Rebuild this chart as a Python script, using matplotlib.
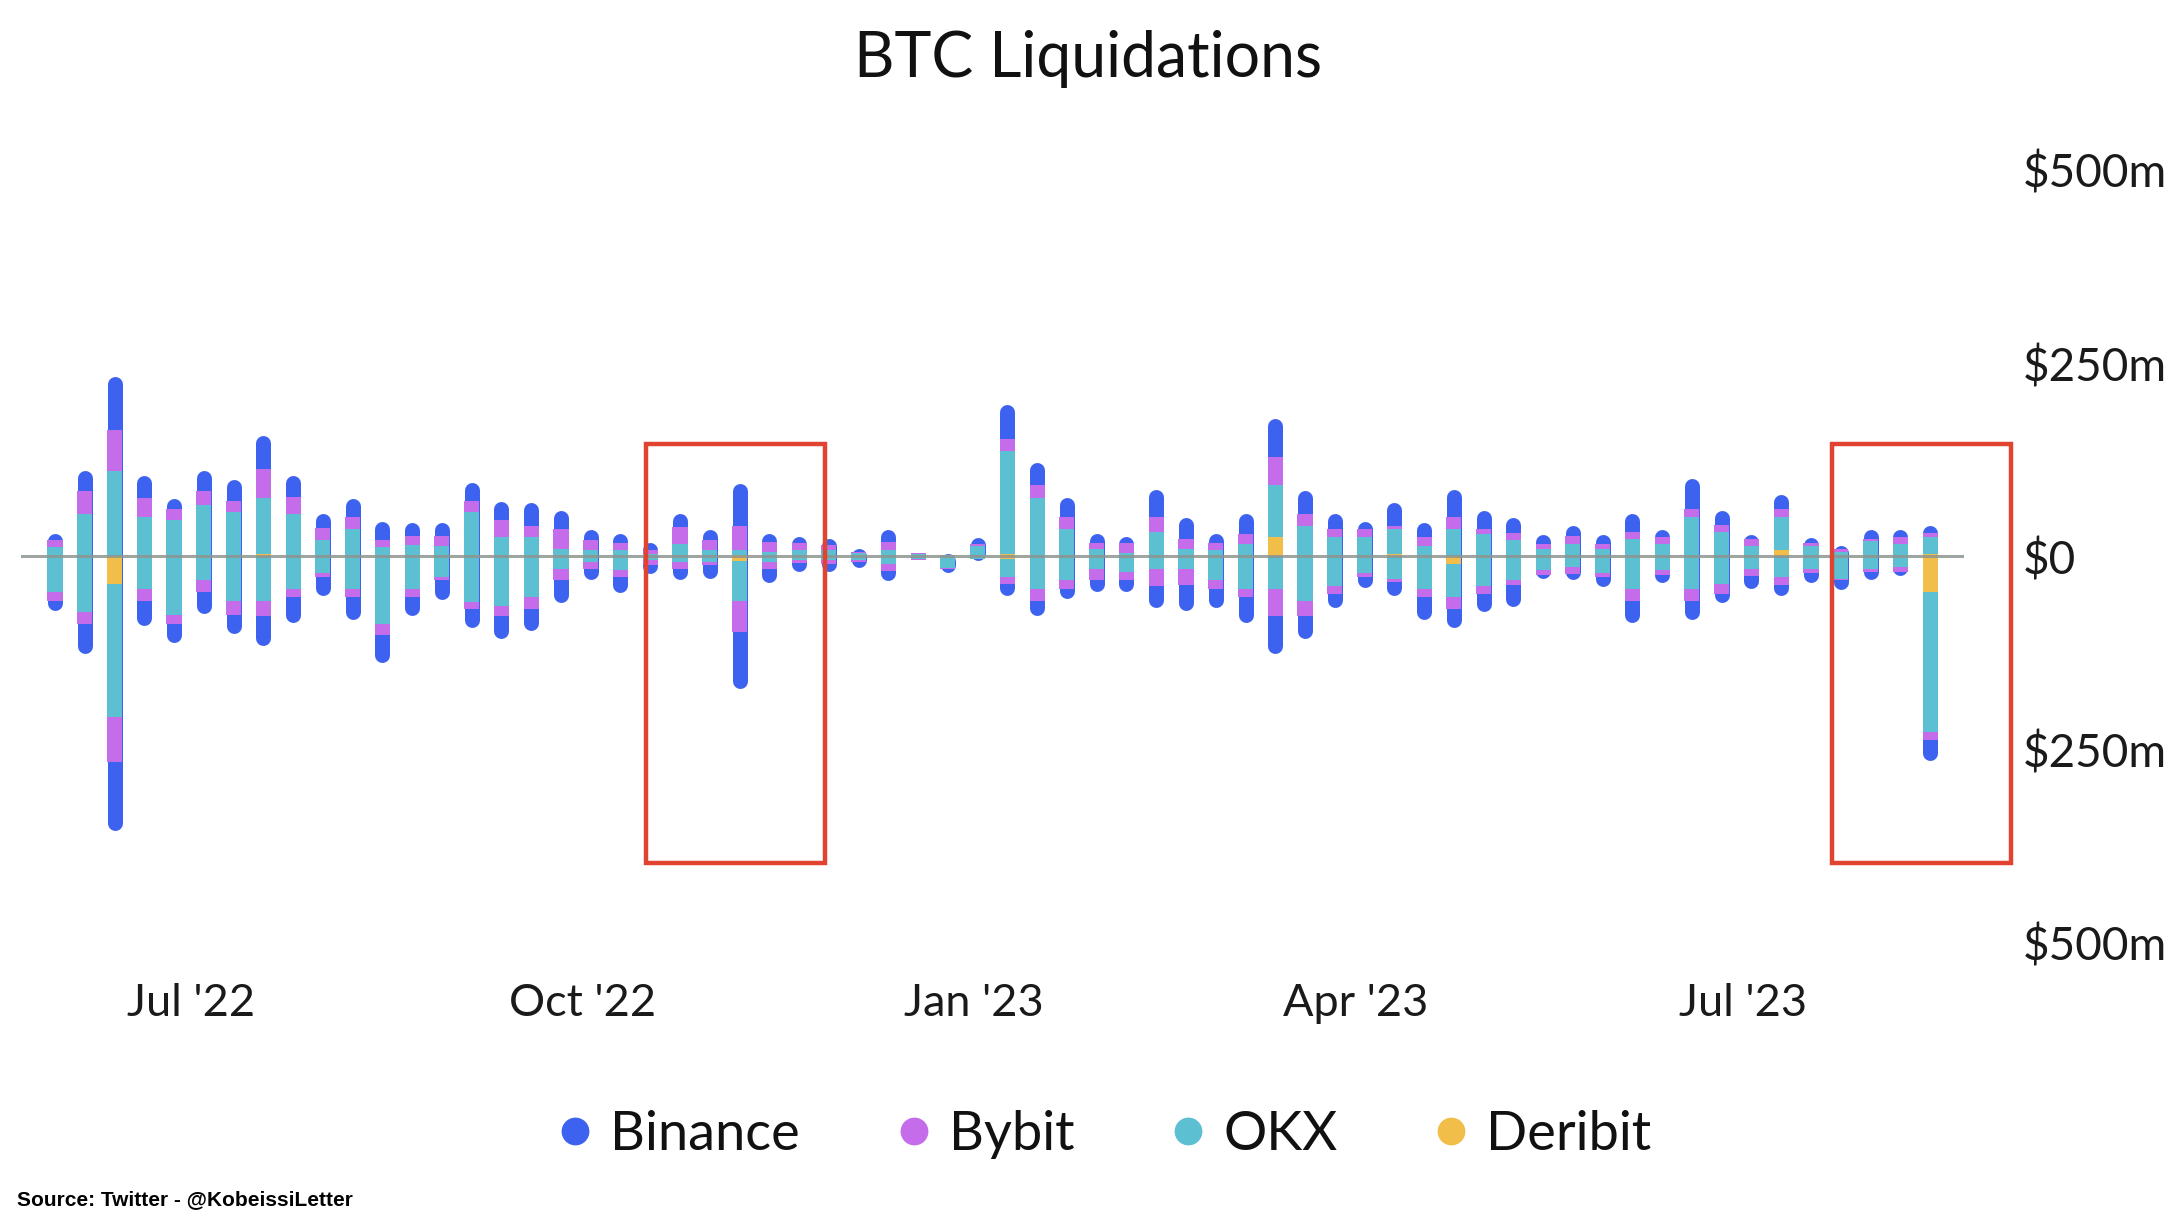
import matplotlib
matplotlib.use("Agg")
import matplotlib.pyplot as plt
import matplotlib.dates as mdates
from matplotlib.lines import Line2D
from matplotlib.patches import Rectangle
import numpy as np
import pandas as pd

plt.rcParams["font.family"] = ["Lato", "DejaVu Sans"]

# weekly BTC liquidations, $m; "pos" stacks above zero, "neg" below
weeks = pd.date_range("2022-05-30", periods=64, freq="7D")

binance_pos = [9, 26, 70, 29, 13, 26, 28, 43, 28, 19, 24, 24, 17, 18, 24, 24,
               30, 24, 14, 13, 9, 17, 14, 55, 11, 9, 8, 4, 16, 4, 2, 9,
               45, 30, 25, 13, 9, 35, 28, 13, 26, 49, 30, 19, 9, 30, 19, 35,
               24, 20, 13, 13, 13, 24, 10, 39, 19, 6, 18, 6, 4, 12, 10, 9]
bybit_pos = [9, 30, 52, 25, 15, 19, 15, 37, 22, 16, 15, 9, 12, 12, 15, 22,
             15, 26, 13, 9, 6, 22, 13, 32, 13, 9, 7, 2, 11, 2, 0, 2,
             15, 17, 15, 7, 13, 19, 12, 9, 13, 37, 15, 11, 11, 4, 11, 15,
             6, 9, 6, 11, 6, 9, 9, 11, 9, 9, 11, 4, 4, 3, 9, 6]
okx_pos = [12, 55, 111, 51, 47, 66, 57, 73, 55, 21, 36, 12, 15, 14, 57, 25,
           25, 10, 8, 8, 3, 16, 8, 6, 6, 8, 8, 4, 8, 3, 2, 14,
           134, 75, 36, 10, 4, 32, 10, 8, 16, 67, 40, 25, 25, 33, 14, 36,
           29, 21, 10, 16, 10, 23, 16, 51, 32, 14, 43, 14, 6, 20, 16, 22]
deribit_pos = [0, 0, 0, 0, 0, 0, 0, 3, 0, 0, 0, 0, 0, 0, 0, 0,
               0, 0, 0, 0, 0, 0, 0, 2, 0, 0, 0, 0, 0, 0, 0, 0,
               3, 0, 0, 0, 0, 0, 0, 0, 0, 25, 0, 0, 0, 3, 0, 0,
               0, 0, 0, 0, 0, 0, 0, 0, 0, 0, 8, 0, 0, 0, 0, 3]

binance_neg = [13, 39, 89, 32, 24, 28, 24, 38, 32, 24, 28, 35, 24, 25, 24, 29,
               28, 28, 14, 19, 11, 14, 18, 73, 18, 10, 9, 7, 12, 5, 5, 2,
               15, 19, 13, 14, 14, 28, 33, 24, 32, 49, 29, 17, 14, 17, 28, 24,
               22, 28, 5, 7, 13, 28, 10, 24, 11, 16, 14, 12, 12, 10, 4, 26]
bybit_neg = [11, 15, 58, 15, 11, 15, 19, 20, 11, 4, 11, 15, 11, 4, 9, 13,
             15, 15, 9, 9, 6, 9, 4, 41, 9, 4, 5, 2, 9, 2, 1, 0,
             9, 15, 11, 15, 11, 22, 21, 11, 11, 35, 20, 11, 4, 4, 11, 15,
             11, 6, 6, 9, 4, 15, 6, 15, 13, 9, 10, 6, 2, 4, 6, 11]
okx_neg = [46, 72, 173, 42, 76, 31, 57, 57, 42, 22, 42, 87, 42, 27, 59, 64,
           53, 16, 7, 18, 5, 7, 7, 51, 7, 5, 5, 5, 10, 3, 15, 3,
           24, 42, 31, 16, 20, 16, 16, 31, 42, 42, 57, 38, 22, 29, 42, 43,
           38, 31, 18, 14, 22, 42, 18, 42, 35, 16, 27, 16, 29, 16, 14, 181]
deribit_neg = [0, 0, 35, 0, 0, 0, 0, 0, 0, 0, 0, 0, 0, 0, 0, 0,
               0, 0, 0, 0, 0, 0, 0, 6, 0, 0, 0, 0, 0, 0, 0, 0,
               3, 0, 0, 0, 0, 0, 0, 0, 0, 0, 0, 0, 0, 0, 0, 10,
               0, 0, 0, 0, 0, 0, 0, 0, 0, 0, 0, 0, 0, 0, 0, 46]

exchanges = ["Binance", "Bybit", "OKX", "Deribit"]
colors = {"Binance": "#3d62ef", "Bybit": "#c56ceb", "OKX": "#5cc0d2", "Deribit": "#f1be49"}

# highlighted periods (red boxes)
boxes = [("2022-10-16", "2022-11-27"), ("2023-07-22", "2023-09-02")]
box_range = (-397, 145)

fig = plt.figure(figsize=(21.84, 12.28), dpi=100)
ax = fig.add_axes([0.0096, 0.2321, 0.8897, 0.6295])

x = mdates.date2num(weeks)
bar_w = 3.55          # days
cap_lw = 10.8         # points, equals bar width in px
r = 9.7               # cap radius in $m at this scale

pos = {"Binance": np.array(binance_pos), "Bybit": np.array(bybit_pos),
       "OKX": np.array(okx_pos), "Deribit": np.array(deribit_pos)}
neg = {"Binance": np.array(binance_neg), "Bybit": np.array(bybit_neg),
       "OKX": np.array(okx_neg), "Deribit": np.array(deribit_neg)}
top = sum(pos.values())
bot = -sum(neg.values())

# outer Binance segment as a round-capped line spanning the whole bar
ax.vlines(x, bot + r, top - r, colors=colors["Binance"], lw=cap_lw,
          capstyle="round", zorder=2)

# inner segments stacked outward from zero: Deribit, OKX, Bybit
for sign, side in ((1, pos), (-1, neg)):
    cum = np.zeros(len(x))
    for name in ["Deribit", "OKX", "Bybit"]:
        ax.bar(x, sign * side[name], bottom=sign * cum, width=bar_w,
               color=colors[name], linewidth=0, zorder=3)
        cum = cum + side[name]

ax.axhline(0, color="#8e958f", lw=2.2, alpha=0.85, zorder=4)

for start, end in boxes:
    x0 = mdates.date2num(pd.Timestamp(start))
    x1 = mdates.date2num(pd.Timestamp(end))
    ax.add_patch(Rectangle((x0, box_range[0]), x1 - x0, box_range[1] - box_range[0],
                           fill=False, edgecolor="#e0432f", lw=3.2, zorder=5,
                           clip_on=False))

ax.set_xlim(mdates.date2num(pd.Timestamp("2022-05-22")),
            mdates.date2num(pd.Timestamp("2023-08-22")))
ax.set_ylim(-500, 500)

tick_dates = pd.to_datetime(["2022-07-01", "2022-10-01", "2023-01-01",
                             "2023-04-01", "2023-07-01"])
ax.set_xticks(mdates.date2num(tick_dates), [d.strftime("%b '%y") for d in tick_dates])
ax.set_yticks([500, 250, 0, -250, -500], ["$500m", "$250m", "$0", "$250m", "$500m"])
ax.yaxis.tick_right()
ax.tick_params(axis="x", length=0, pad=29, labelsize=32.5, labelcolor="#1a1a1a")
ax.tick_params(axis="y", length=0, pad=42, labelsize=33, labelcolor="#1a1a1a")
for lab in ax.get_yticklabels():
    lab.set_horizontalalignment("left")
for s in ax.spines.values():
    s.set_visible(False)

fig.text(0.498, 0.952, "BTC Liquidations", ha="center", va="center",
         fontsize=45, color="#111111")

handles = [Line2D([], [], ls="", marker="o", markersize=19, color=colors[n]) for n in exchanges]
fig.legend(handles, exchanges, loc="center", bbox_to_anchor=(0.506, 0.076), ncol=4,
           frameon=False, fontsize=39, handlelength=0.6, handletextpad=0.35,
           columnspacing=1.8, labelcolor="#111111")

fig.text(0.008, 0.023, "Source: Twitter - @KobeissiLetter", ha="left", va="center",
         fontsize=15, fontweight="bold", family=["Liberation Sans", "DejaVu Sans"])

fig.savefig("out.png", dpi=100, facecolor="white")
